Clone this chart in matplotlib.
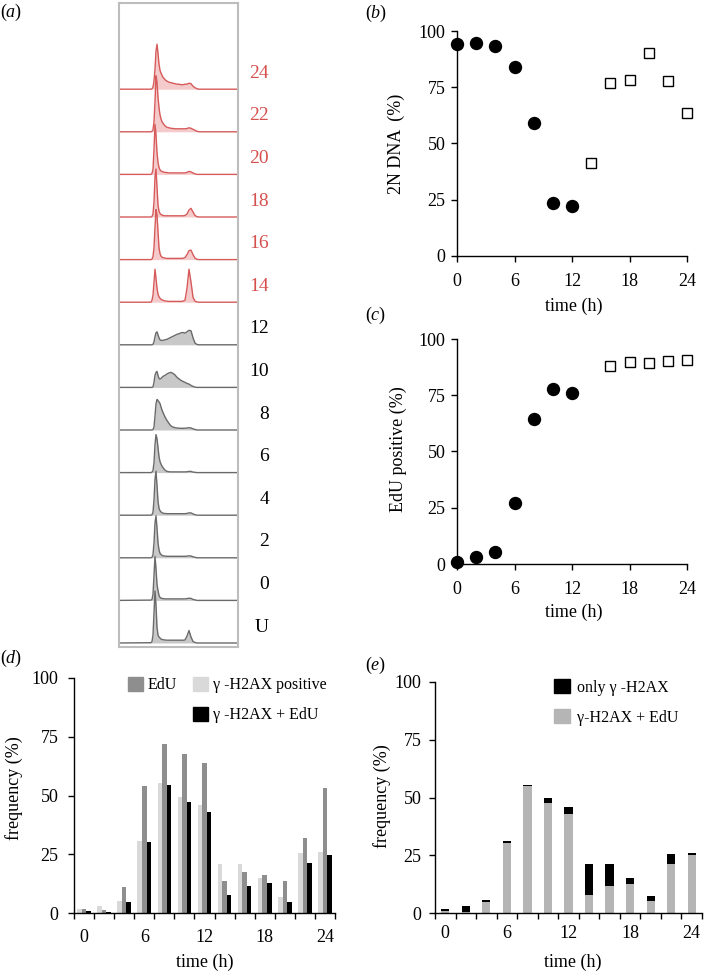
import matplotlib
matplotlib.use('Agg')
import numpy as np
import matplotlib.pyplot as plt
from matplotlib.patches import Patch
from matplotlib.ticker import FixedLocator

plt.rcParams['font.family'] = ['Liberation Serif', 'DejaVu Serif']
plt.rcParams['mathtext.fontset'] = 'custom'
plt.rcParams['mathtext.it'] = 'Liberation Serif:italic'
plt.rcParams['mathtext.rm'] = 'Liberation Serif'

# ---------------- data ----------------
# panel (a): DNA content histograms (channel positions and heights)
hist_x = [0, 32, 33, 34, 35, 36, 37, 38, 39, 40, 41, 42, 43, 44, 46, 48, 50, 52,
          54, 56, 58, 60, 62, 64, 66, 68, 70, 72, 74, 76, 78, 80, 119]
hist_U = [0, 0.3, 1.5, 8, 30, 52, 38, 16, 8, 6, 5, 4, 3.5, 3.3, 3, 2.8, 2.8, 2.8,
          2.8, 2.8, 2.8, 2.8, 2.8, 2.8, 3, 7, 12.5, 6, 1.5, 0.5, 0, 0, 0]
hist_0 = [0, 0.3, 1, 6, 25, 44, 32, 16, 10, 5, 3, 2.3, 2, 1.8, 1.5, 1.5, 1.5, 1.5,
          1.5, 1.5, 1.5, 1.5, 1.5, 1.5, 1.5, 1.8, 2.2, 2, 1, 0.5, 0, 0, 0]
hist_2 = [0, 0, 0.5, 3, 15, 35, 42, 30, 15, 8, 4.5, 3.3, 2.5, 2, 1.7, 1.5, 1.5, 1.5,
          1.5, 1.5, 1.5, 1.5, 1.5, 1.5, 1.5, 1.7, 2, 1.8, 1, 0.5, 0, 0, 0]
hist_4 = [0, 0, 0.5, 3, 15, 36, 44, 30, 14, 7, 4.5, 3.3, 2.5, 2, 1.7, 1.5, 1.5, 1.5,
          1.5, 1.5, 1.5, 1.5, 1.5, 1.5, 1.5, 1.8, 2.3, 2.3, 1.3, 0.5, 0, 0, 0]
hist_6 = [0, 0, 0.5, 2, 10, 28, 38, 34, 25, 16, 11, 8.5, 6.5, 5, 2.5, 1.2, 0.8, 0.7,
          0.7, 0.7, 0.7, 0.7, 0.7, 0.7, 0.7, 0.8, 1.2, 1.2, 0.5, 0.3, 0, 0, 0]
hist_8 = [0, 0, 0, 0.5, 3, 14, 26, 30.5, 29.5, 28, 26.5, 23, 20, 17.5, 13, 9.5, 6.5, 4,
          3, 2.3, 2, 1.8, 1.7, 1.7, 1.8, 2, 2.3, 2, 1.2, 0.5, 0, 0, 0]
hist_10 = [0, 0, 0, 0.5, 5, 12, 15, 16, 12, 9, 8.3, 9, 10, 11, 12, 13.5, 14.5, 15,
           14, 12.5, 10, 8.5, 7, 6, 5, 4, 3.3, 2, 1, 0.3, 0, 0, 0]
hist_12 = [0, 0, 0, 0.5, 3, 8, 12, 13, 10, 7, 5, 4.5, 4.3, 4.5, 5, 5.5, 6.5, 7.5,
           8.5, 9.5, 10.5, 11, 12, 12.3, 11.7, 13, 14.5, 14, 7, 1.7, 0.3, 0, 0]
hist_14 = [0, 0, 2, 7, 20, 33, 24, 14, 8, 5.5, 4, 3, 2.3, 2, 1.3, 1, 0.8, 0.8,
           0.8, 0.8, 0.8, 0.8, 0.8, 1, 2, 14, 33, 20, 5, 1, 0.3, 0, 0]
hist_16 = [0, 0, 0.5, 3, 12, 32, 50, 45, 28, 12, 6, 3.5, 2.5, 2, 1.5, 1.2, 1.2, 1.2,
           1.2, 1.2, 1.2, 1.2, 1.2, 1.3, 2, 5, 9, 9.5, 5, 1.5, 0.3, 0, 0]
hist_18 = [0, 0, 0.5, 3, 15, 40, 48, 30, 12, 6, 3.5, 2.5, 2, 1.5, 1.2, 1.2, 1.2, 1.2,
           1.2, 1.2, 1.2, 1.2, 1.2, 1.2, 1.5, 3, 7, 8.7, 5, 1.5, 0.3, 0, 0]
hist_20 = [0, 0, 1, 5, 25, 50, 40, 22, 12, 7, 4.5, 3.5, 3, 2.5, 2, 1.8, 1.5, 1.5,
           1.5, 1.5, 1.5, 1.5, 1.5, 1.5, 1.5, 2, 3, 2.5, 1.5, 0.5, 0, 0, 0]
hist_22 = [0, 0, 0.5, 2, 10, 30, 56, 50, 35, 24, 17, 13, 10, 8.5, 6, 4.5, 4, 3.5,
           3.3, 3, 3, 3, 3, 3, 3, 3.3, 4, 3.5, 2.5, 1.5, 0.5, 0, 0]
hist_24 = [0, 0, 0.5, 2, 8, 20, 38, 45, 36, 25, 19, 16, 14, 12, 9.5, 8, 7, 6.5,
           6, 5.5, 5, 5, 4.5, 4.5, 5, 5, 6, 5.5, 3, 1.5, 0.5, 0, 0]
hist_labels = ['U', '0', '2', '4', '6', '8', '10', '12', '14', '16', '18', '20', '22', '24']
hist_rows = [hist_U, hist_0, hist_2, hist_4, hist_6, hist_8, hist_10, hist_12,
             hist_14, hist_16, hist_18, hist_20, hist_22, hist_24]
red_labels = ['14', '16', '18', '20', '22', '24']

# panel (b): 2N DNA (%)
b_time_circ = [0, 2, 4, 6, 8, 10, 12]
b_dna_circ = [94.2, 94.5, 93.2, 84.0, 59.3, 23.5, 22.2]
b_time_sq = [14, 16, 18, 20, 22, 24]
b_dna_sq = [41.3, 77.0, 78.0, 90.2, 77.8, 63.6]

# panel (c): EdU positive (%)
c_time_circ = [0, 2, 4, 6, 8, 10, 12]
c_edu_circ = [0.7, 3.1, 5.5, 27.0, 64.6, 77.8, 76.0]
c_time_sq = [16, 18, 20, 22, 24]
c_edu_sq = [87.9, 89.9, 89.3, 90.2, 90.8]

# panel (d): frequencies (%)
d_time = [0, 2, 4, 6, 8, 10, 12, 14, 16, 18, 20, 22, 24]
d_gh2ax_pos = [1.5, 2.8, 5.1, 30.6, 55.3, 49.4, 46.0, 20.9, 20.9, 14.9, 7.0, 25.5, 25.8]
d_edu = [1.5, 1.1, 10.9, 54.2, 72.0, 67.5, 63.7, 13.8, 17.4, 16.2, 13.5, 31.8, 53.2]
d_gh2ax_edu = [1.0, 0.4, 4.7, 30.1, 54.5, 47.4, 42.8, 7.5, 11.3, 12.6, 4.8, 21.1, 24.8]

# panel (e): stacked frequencies (%)
e_time = [0, 2, 4, 6, 8, 10, 12, 14, 16, 18, 20, 22, 24]
e_gh2ax_edu = [1.0, 0.3, 4.9, 30.5, 54.8, 47.6, 42.8, 7.6, 11.5, 12.7, 5.0, 21.0, 25.0]
e_only_gh2ax = [0.7, 2.7, 0.6, 0.5, 0.8, 2.0, 3.3, 13.4, 9.6, 2.3, 2.2, 4.6, 0.8]

# ---------------- figure ----------------
W, H = 704, 972
fig = plt.figure(figsize=(W / 100, H / 100), dpi=100)


def ax_px(l, t, r, b):
    return fig.add_axes([l / W, 1 - b / H, (r - l) / W, (b - t) / H])


def style(ax, xpad, ypad):
    for s in ['top', 'right']:
        ax.spines[s].set_visible(False)
    for s in ['left', 'bottom']:
        ax.spines[s].set_linewidth(1.0)
    ax.tick_params(direction='out', length=4, width=1, labelsize=13)
    ax.tick_params(axis='x', pad=xpad)
    ax.tick_params(axis='y', pad=ypad)


def letter(x, y, ch):
    fig.text(x / W, 1 - y / H, '($\\it{%s}$)' % ch, fontsize=13, ha='center', va='center')


# ---- (a) ----
axa = ax_px(119, 3, 238, 647)
axa.set_xlim(0, 119)
axa.set_ylim(0, 644)
axa.set_xticks([])
axa.set_yticks([])
for s in axa.spines.values():
    s.set_color('#bdbdbd')
    s.set_linewidth(1.5)
row_step = 42.6
for i, (lab, hv) in enumerate(zip(hist_labels, hist_rows)):
    base = 4 + i * row_step
    red = lab in red_labels
    lc = '#d65a5a' if red else '#6a6a6a'
    fc = '#f5caca' if red else '#c8c8c8'
    tc = '#d6504e' if red else 'black'
    y = [base + v for v in hv]
    axa.fill_between(hist_x, base, y, color=fc, lw=0, zorder=1)
    axa.plot(hist_x, y, color=lc, lw=1.0, zorder=2)
    axa.text(150, base + 16, lab, ha='right', va='center', fontsize=14, color=tc,
             clip_on=False)
letter(11, 12, 'a')

# ---- (b) ----
axb = ax_px(457, 31, 687, 256)
style(axb, 8.5, 4.3)
axb.plot(b_time_circ, b_dna_circ, 'o', ms=8.6, color='black', clip_on=False, zorder=3)
axb.plot(b_time_sq, b_dna_sq, 's', ms=7.3, mfc='white', mec='black', mew=1.0,
         clip_on=False, zorder=3)
axb.set_xlim(0, 24)
axb.set_ylim(0, 100)
axb.set_xticks([0, 6, 12, 18, 24])
axb.set_yticks([0, 25, 50, 75, 100])
axb.set_xlabel('time (h)', fontsize=13, va='center')
axb.xaxis.set_label_coords(0.507, -0.222)
axb.set_ylabel('2N DNA  (%)', fontsize=13, va='center')
axb.yaxis.set_label_coords(-0.265, 0.5)
letter(376, 13, 'b')

# ---- (c) ----
axc = ax_px(457, 339, 687, 564)
style(axc, 8.5, 4.3)
axc.plot(c_time_circ, c_edu_circ, 'o', ms=8.6, color='black', clip_on=False, zorder=3)
axc.plot(c_time_sq, c_edu_sq, 's', ms=7.3, mfc='white', mec='black', mew=1.0,
         clip_on=False, zorder=3)
axc.set_xlim(0, 24)
axc.set_ylim(0, 100)
axc.set_xticks([0, 6, 12, 18, 24])
axc.set_yticks([0, 25, 50, 75, 100])
axc.set_xlabel('time (h)', fontsize=13, va='center')
axc.xaxis.set_label_coords(0.507, -0.213)
axc.set_ylabel('EdU positive (%)', fontsize=13, va='center')
axc.yaxis.set_label_coords(-0.255, 0.51)
letter(376, 315, 'c')

# ---- (d) ----
axd = ax_px(74, 678, 335, 913)
style(axd, 11.5, 7.2)
bw = 0.45
t = np.array(d_time, dtype=float)
axd.bar(t - bw, d_gh2ax_pos, width=bw, color='#d9d9d9', lw=0)
axd.bar(t, d_edu, width=bw, color='#8e8e8e', lw=0)
axd.bar(t + bw, d_gh2ax_edu, width=bw, color='black', lw=0)
axd.set_xlim(-1, 25)
axd.set_ylim(0, 100)
axd.set_xticks([0, 6, 12, 18, 24])
axd.set_yticks([0, 25, 50, 75, 100])
axd.xaxis.set_minor_locator(FixedLocator(np.arange(-1, 26, 2)))
axd.tick_params(axis='x', which='major', length=0)
axd.tick_params(axis='x', which='minor', length=4, width=1, direction='out')
axd.set_xlabel('time (h)', fontsize=13, va='center')
axd.xaxis.set_label_coords(0.5, -0.209)
axd.set_ylabel('frequency (%)', fontsize=13, va='center')
axd.yaxis.set_label_coords(-0.23, 0.53)
blank = Patch(facecolor='none', edgecolor='none')
axd.legend([Patch(color='#8e8e8e'), blank, Patch(color='#d9d9d9'), Patch(color='black')],
           ['EdU', '', '\u03b3 -H2AX positive', '\u03b3 -H2AX + EdU'],
           ncol=2, loc='upper left', bbox_to_anchor=(0.207, 1.005), frameon=False,
           fontsize=11.5, handlelength=0.95, handleheight=0.95, handletextpad=0.3,
           columnspacing=1.0, labelspacing=0.85, borderpad=0, borderaxespad=0)
letter(11, 658, 'd')

# ---- (e) ----
axe = ax_px(435, 682, 702, 913)
style(axe, 8.6, 5.8)
te = np.array(e_time, dtype=float)
axe.bar(te, e_gh2ax_edu, width=0.8, color='#b5b5b5', lw=0)
axe.bar(te, e_only_gh2ax, width=0.8, bottom=e_gh2ax_edu, color='black', lw=0)
axe.set_xlim(-1, 25)
axe.set_ylim(0, 100)
axe.set_xticks([0, 6, 12, 18, 24])
axe.set_yticks([0, 25, 50, 75, 100])
axe.xaxis.set_minor_locator(FixedLocator(np.arange(-1, 26, 2)))
axe.tick_params(axis='x', which='major', length=0)
axe.tick_params(axis='x', which='minor', length=4, width=1, direction='out')
axe.set_xlabel('time (h)', fontsize=13, va='center')
axe.xaxis.set_label_coords(0.517, -0.212)
axe.set_ylabel('frequency (%)', fontsize=13, va='center')
axe.yaxis.set_label_coords(-0.199, 0.507)
axe.legend([Patch(color='black'), Patch(color='#b5b5b5')],
           ['only \u03b3 -H2AX', '\u03b3-H2AX + EdU'],
           loc='upper left', bbox_to_anchor=(0.446, 1.012), frameon=False,
           fontsize=11.5, handlelength=1.0, handleheight=0.95, handletextpad=0.45,
           labelspacing=0.85, borderpad=0, borderaxespad=0)
letter(376, 665, 'e')

fig.savefig('out.png', dpi=100)
